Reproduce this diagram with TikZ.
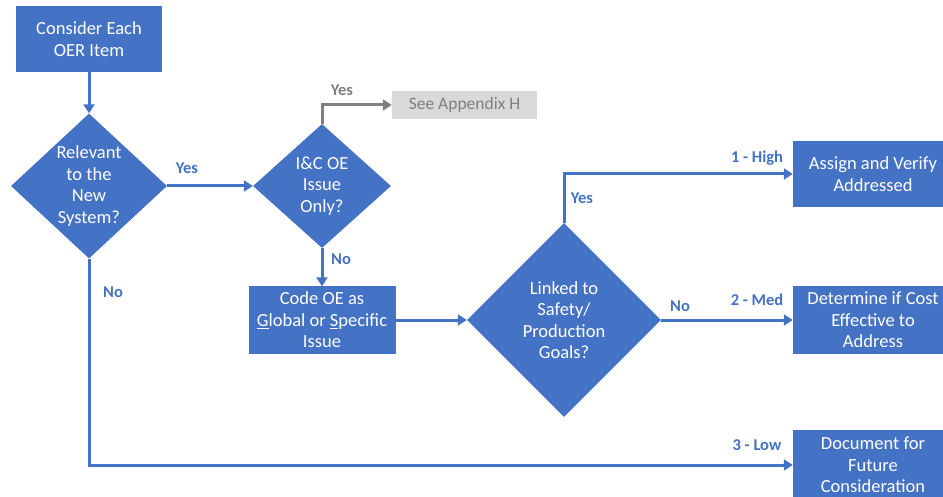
\documentclass[tikz,border=0pt]{standalone}
\usepackage{fontspec}
\setmainfont{Carlito}
\usetikzlibrary{arrows.meta,shapes.geometric}
\definecolor{oblue}{HTML}{4472C4}
\definecolor{ogray}{HTML}{D9D9D9}
\definecolor{ogtext}{HTML}{7F7F7F}
\definecolor{oline}{HTML}{808080}

\begin{document}
\begin{tikzpicture}[x=1pt,y=-1pt,
  box/.style={fill=oblue, text=white, align=center, inner sep=0pt,
    font=\fontsize{18.5}{21.5}\selectfont},
  dia/.style={diamond, fill=oblue, inner sep=0pt},
  diatext/.style={text=white, align=center, inner sep=0pt,
    font=\fontsize{18.5}{21.5}\selectfont},
  greybox/.style={fill=ogray, text=ogtext, inner sep=0pt,
    font=\fontsize{17.5}{20}\selectfont},
  lbl/.style={text=oblue, inner sep=0pt, font=\bfseries\fontsize{16.5}{19}\selectfont},
  glbl/.style={text=oline, inner sep=0pt, font=\bfseries\fontsize{16.5}{19}\selectfont},
  arr/.style={draw=oblue, line width=3pt, -{Triangle[length=9pt,width=11pt]}},
  garr/.style={draw=oline, line width=3pt, -{Triangle[length=9pt,width=11pt]}}
]
\useasboundingbox (0,0) rectangle (943,497);
\clip (0,0) rectangle (943,497);
\fill[white] (0,0) rectangle (943,497);

% process boxes
\node[box, minimum width=146pt, minimum height=66pt] (start) at (89,39)
  {Consider Each\\OER Item};
\node[box, minimum width=147pt, minimum height=67pt] (code) at (322,320)
  {Code OE as\\\underline{G}lobal or \underline{S}pecific\\Issue};
\node[box, minimum width=160pt, minimum height=66pt] (b1) at (873,174)
  {Assign and Verify\\Addressed};
\node[box, minimum width=160pt, minimum height=67pt] (b2) at (873,320)
  {Determine if Cost\\Effective to\\Address};
\node[box, minimum width=160pt, minimum height=70pt] (b3) at (873,465)
  {Document for\\Future\\Consideration};
\node[greybox, minimum width=145pt, minimum height=28pt] (gbox) at (464.5,105)
  {See Appendix H};

% decisions
\node[dia, minimum width=156pt, minimum height=145pt] (d1) at (89,186) {};
\node[diatext] (d1t) at (d1) {Relevant\\to the\\New\\System?};
\node[dia, minimum width=138pt, minimum height=124pt] (d2) at (322,186) {};
\node[diatext] (d2t) at (d2) {I\&C OE\\Issue\\Only?};
\node[dia, minimum width=194pt, minimum height=194pt] (d3) at (564,320) {};
\node[diatext] (d3t) at (d3) {Linked to\\Safety/\\Production\\Goals?};

% connectors
\draw[arr] (start.south) -- (d1.north);
\draw[arr] (d1.east) -- (d2.west);
\draw[garr] (d2.north) |- (gbox.west);
\draw[arr] (d2.south) -- (code.north);
\draw[arr] (code.east) -- (d3.west);
\draw[arr] (d3.north) |- (b1.west);
\draw[arr] (d3.east) -- (b2.west);
\draw[arr] (d1.south) |- (b3.west);

% connector labels
\node[lbl] (l1) at (187,168) {Yes};
\node[glbl] (l2) at (342,90) {Yes};
\node[lbl] (l3) at (341,259) {No};
\node[lbl] (l4) at (113,292) {No};
\node[lbl] (l5) at (582,198) {Yes};
\node[lbl] (l6) at (757,158) {1 - High};
\node[lbl] (l7) at (680,306) {No};
\node[lbl] (l8) at (757,300) {2 - Med};
\node[lbl] (l9) at (757,445) {3 - Low};
\end{tikzpicture}
\end{document}
